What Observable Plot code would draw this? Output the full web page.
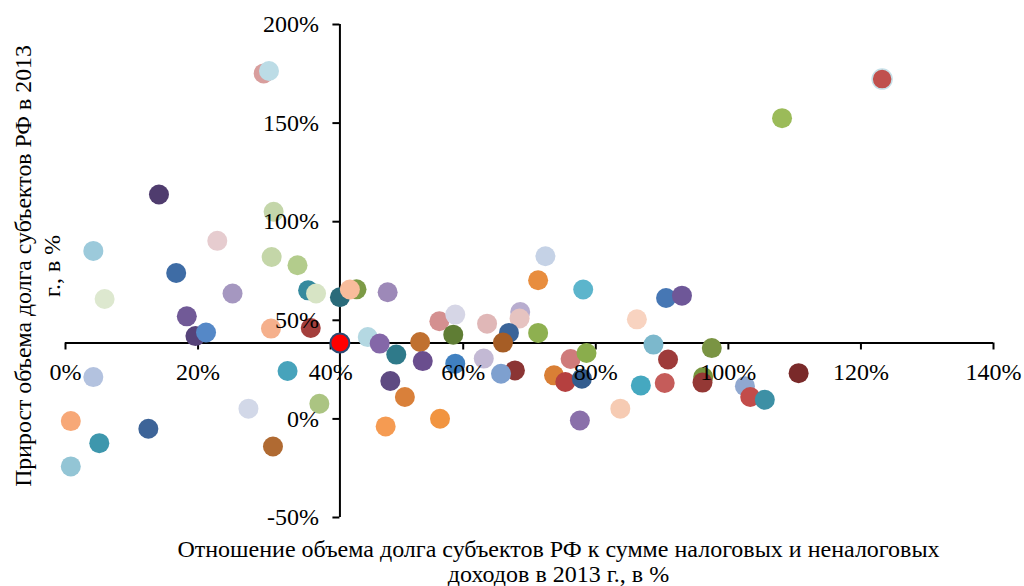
<!DOCTYPE html>
<html>
<head>
<meta charset="utf-8">
<script src="https://cdn.jsdelivr.net/npm/d3@7"></script>
<script src="https://cdn.jsdelivr.net/npm/@observablehq/plot@0.6"></script>
<style>
  html, body { margin: 0; padding: 0; background: #fff; }
  #chart { width: 1024px; height: 586px; }
</style>
</head>
<body>
<div id="chart"></div>
<script>
// Debt / (tax + non-tax revenue) 2013, %
const ratioX = [
  14.1, 31.4, 4.2, 22.9, 31.1, 35.0, 16.7, 5.9, 25.2, 36.6,
  37.8, 41.4, 18.3, 19.6, 21.2, 31.0, 37.0, 4.2, 33.5, 27.6,
  38.3, 0.8, 12.5, 5.1, 0.8, 31.3, 29.9, 30.7, 43.9, 42.9,
  48.6, 71.3, 72.4, 78.1, 45.6, 47.4, 49.9, 53.5, 53.9, 56.4,
  58.8, 58.5, 58.8, 63.1, 63.6, 68.6, 68.5, 66.9, 66.0, 67.8,
  65.7, 71.3, 49.0, 51.2, 48.3, 56.5, 73.7, 75.4, 76.2, 77.6,
  90.6, 93.0, 86.2, 88.7, 90.9, 97.5, 78.6, 77.9, 86.8, 90.4,
  96.2, 96.1, 102.5, 103.3, 105.5, 110.6, 83.7, 123.2, 108.1
];
// Growth of regional debt in 2013, %
const growthY = [
  113.8, 105.0, 85.2, 90.3, 82.1, 77.9, 74.0, 60.8, 63.6, 65.2,
  63.6, 61.7, 52.0, 42.0, 43.8, 45.8, 46.1, 21.2, 24.3, 5.2,
  7.7, -1.1, -5.0, -12.3, -24.1, -14.0, 175.2, 176.4, 65.7, 65.6,
  64.2, 70.3, 82.5, 65.6, 41.5, 38.2, 32.6, 39.0, 29.3, 49.5,
  52.9, 42.7, 28.0, 30.6, 48.3, 54.2, 50.9, 43.6, 38.7, 24.6,
  22.9, 43.6, 19.2, 11.1, -3.8, 0.1, 22.1, 18.7, 30.4, -0.8,
  61.3, 62.5, 50.5, 37.7, 30.1, 35.9, 33.4, 20.4, 17.0, 18.2,
  21.2, 18.4, 16.6, 11.1, 9.7, 23.2, 5.2, 172.3, 152.5
];
const pointColors = [
  "#4f3c6e", "#c4d6aa", "#9ccadb", "#e6cccf", "#c4d6a8", "#b3cc8c", "#3e6ca5", "#dde8cf", "#a597c0", "#358a9e",
  "#d7e4c5", "#2a6b7a", "#715a97", "#56437a", "#5588c7", "#f5b08c", "#a43f3c", "#b3c2df", "#47a3bb", "#d2d8e8",
  "#abc482", "#f7a877", "#3d6498", "#3e97ad", "#93c5d5", "#b06a32", "#d89e9d", "#bcdce6", "#7c9a45", "#f8bc9b",
  "#9d89b8", "#e88d3e", "#c5d2e6", "#5cb5cc", "#b4d8e2", "#8467a8", "#2f7a8a", "#c07030", "#6a4e8e", "#d49090",
  "#d6d6e6", "#5f7d34", "#4080c0", "#c3b9d4", "#e0b7b7", "#b8adcf", "#e6c3c0", "#3a6499", "#a65d25", "#8b3534",
  "#7ea0cf", "#8eb050", "#5e4a82", "#d9803a", "#f59b52", "#f19440", "#d97f35", "#b5403f", "#cf7b7b", "#8a70aa",
  "#4677b4", "#6e5798", "#f8d3c0", "#7cb8cc", "#9e3b3a", "#7a9443", "#8aad4c", "#335d8f", "#45a8c0", "#c55c5a",
  "#77963f", "#943835", "#90a8d0", "#c24c4a", "#3d90a5", "#7a2a2a", "#f6cbb3", "#c0504d", "#9bbb59"
];
// Average for Russia (axes cross here)
const avgX = 41.4;
const avgY = 38.5;

const xTicks = [0, 20, 40, 60, 80, 100, 120, 140];
const yTicks = [-50, 0, 50, 100, 150, 200];

const xTitle = "Отношение объема долга субъектов РФ к сумме налоговых и неналоговых\nдоходов в 2013 г., в %";
const yTitle = "Прирост объема долга субъектов РФ в 2013\nг., в %";

const points = ratioX.map((x, i) => ({x, y: growthY[i], c: pointColors[i]}));
const nPlain = points.length - 2; // last two drawn on top; the top-right one has a light rim
const font = "'Liberation Serif', 'Times New Roman', serif";

const chart = Plot.plot({
  width: 1024,
  height: 586,
  marginLeft: 65,
  marginRight: 31,
  marginTop: 24,
  marginBottom: 69,
  style: {fontFamily: font, background: "#fff"},
  x: {domain: [0, 140], axis: null},
  y: {domain: [-50, 200], axis: null},
  color: {type: "identity"},
  marks: [
    // axis lines crossing at the average
    Plot.ruleY([avgY], {x1: xTicks[0], x2: xTicks[xTicks.length - 1], stroke: "#000", strokeWidth: 2}),
    Plot.ruleX([avgX], {y1: yTicks[0], y2: yTicks[yTicks.length - 1], stroke: "#000", strokeWidth: 2}),
    // tick marks
    Plot.ruleX(xTicks, {x: d => d, y1: () => avgY, y2: () => avgY, insetBottom: -7, stroke: "#000", strokeWidth: 2}),
    Plot.ruleY(yTicks, {y: d => d, x1: () => avgX, x2: () => avgX, insetLeft: -7, stroke: "#000", strokeWidth: 2}),
    // regions
    Plot.dot(points.slice(0, nPlain), {x: "x", y: "y", r: 10, fill: "c"}),
    Plot.dot(points.slice(nPlain), {x: "x", y: "y", r: 10, fill: "c", stroke: (d, i) => i === 0 ? "#c6e0e8" : "none", strokeWidth: 1.5}),
    // Russia average
    Plot.dot([{x: avgX, y: avgY}], {x: "x", y: "y", r: 9.5, fill: "#ff0000", stroke: "#2b4a73", strokeWidth: 2}),
    // tick labels
    Plot.text(xTicks, {x: d => d, y: () => avgY, text: d => d + "%", dy: 29, fontSize: 24, fill: "#000"}),
    Plot.text(yTicks, {x: () => avgX, y: d => d, text: d => d + "%", textAnchor: "end", dx: -21, fontSize: 24, fill: "#000"}),
    // axis titles
    Plot.text([xTitle], {frameAnchor: "bottom", text: d => d, textAnchor: "middle", lineAnchor: "middle", lineHeight: 1.05, dy: 44, dx: 29, fontSize: 24, fill: "#000"}),
    Plot.text([yTitle], {frameAnchor: "left", text: d => d, textAnchor: "middle", rotate: -90, lineAnchor: "middle", lineHeight: 1.2, dx: -29, dy: -5, fontSize: 23.8, fill: "#000"})
  ]
});
document.getElementById("chart").appendChild(chart);
</script>
</body>
</html>
